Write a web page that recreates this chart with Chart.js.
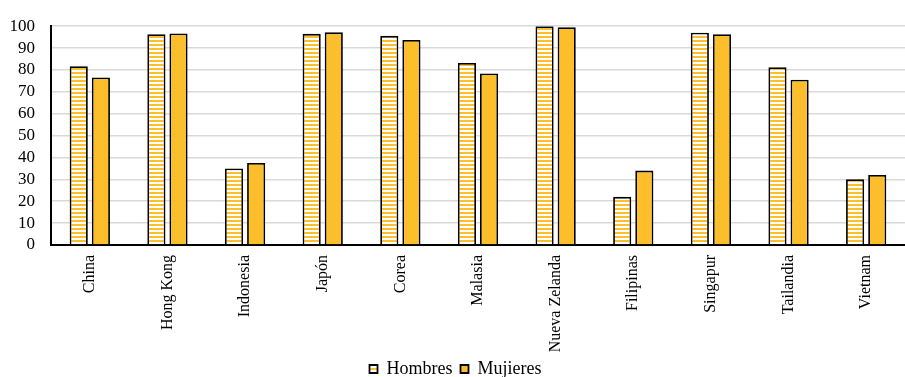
<!DOCTYPE html>
<html>
<head>
<meta charset="utf-8">
<script src="https://cdn.jsdelivr.net/npm/chart.js@4.4.1/dist/chart.umd.min.js"></script>
<style>
  html, body { margin: 0; padding: 0; background: #ffffff; }
  #wrap { width: 905px; height: 377px; position: relative; }
</style>
</head>
<body>
<div id="wrap"><canvas id="c"></canvas></div>
<script>
// Countries and survey percentages by sex
const categories = ['China', 'Hong Kong', 'Indonesia', 'Japón', 'Corea', 'Malasia',
                    'Nueva Zelanda', 'Filipinas', 'Singapur', 'Tailandia', 'Vietnam'];
const hombres = [81.7, 96.3, 35.0, 96.5, 95.6, 83.2, 100.0, 22.0, 97.0, 81.2, 30.0];
const mujeres = [76.6, 96.7, 37.5, 97.2, 93.7, 78.4, 99.5, 34.0, 96.3, 75.5, 32.0];
const yMin = 0, yMax = 100, yStep = 10;

const gold = '#FCBF2B';
const serif = '"Liberation Serif", "Times New Roman", serif';

// Horizontal yellow/white stripe fill for the first series
function stripePattern() {
  const p = document.createElement('canvas');
  p.width = 4; p.height = 4;
  const g = p.getContext('2d');
  g.fillStyle = '#ffffff';
  g.fillRect(0, 0, 4, 4);
  g.fillStyle = gold;
  g.fillRect(0, 0, 4, 2);
  return g.createPattern(p, 'repeat');
}

new Chart(document.getElementById('c'), {
  type: 'bar',
  data: {
    labels: categories,
    datasets: [
      { label: 'Hombres', data: hombres, backgroundColor: stripePattern(),
        borderColor: '#000000', borderWidth: 1.8 },
      { label: 'Mujieres', data: mujeres, backgroundColor: gold,
        borderColor: '#000000', borderWidth: 1.8 }
    ]
  },
  options: {
    responsive: true,
    maintainAspectRatio: false,
    animation: false,
    layout: { padding: { top: 9, right: 0, left: 6, bottom: -11 } },
    datasets: { bar: { categoryPercentage: 0.57, barPercentage: 0.82 } },
    scales: {
      x: {
        grid: { display: false, drawTicks: false },
        border: { display: true, color: '#000000', width: 2 },
        ticks: { color: '#000000', font: { family: serif, size: 16 },
                 minRotation: 90, maxRotation: 90, padding: 10, autoSkip: false },
        afterFit: (axis) => { axis.height = 107; }
      },
      y: {
        min: yMin, max: yMax,
        grid: { color: '#d9d9d9', lineWidth: 1.5, drawTicks: false },
        border: { display: true, color: '#000000', width: 2 },
        ticks: { color: '#000000', font: { family: serif, size: 17 },
                 stepSize: yStep, autoSkip: false, padding: 16 },
        afterFit: (axis) => { axis.width = 45; }
      }
    },
    plugins: {
      legend: {
        position: 'bottom',
        labels: { color: '#000000', font: { family: serif, size: 18 },
                  boxWidth: 8, boxHeight: 8, padding: 8 }
      },
      tooltip: { enabled: false }
    }
  }
});
</script>
</body>
</html>
